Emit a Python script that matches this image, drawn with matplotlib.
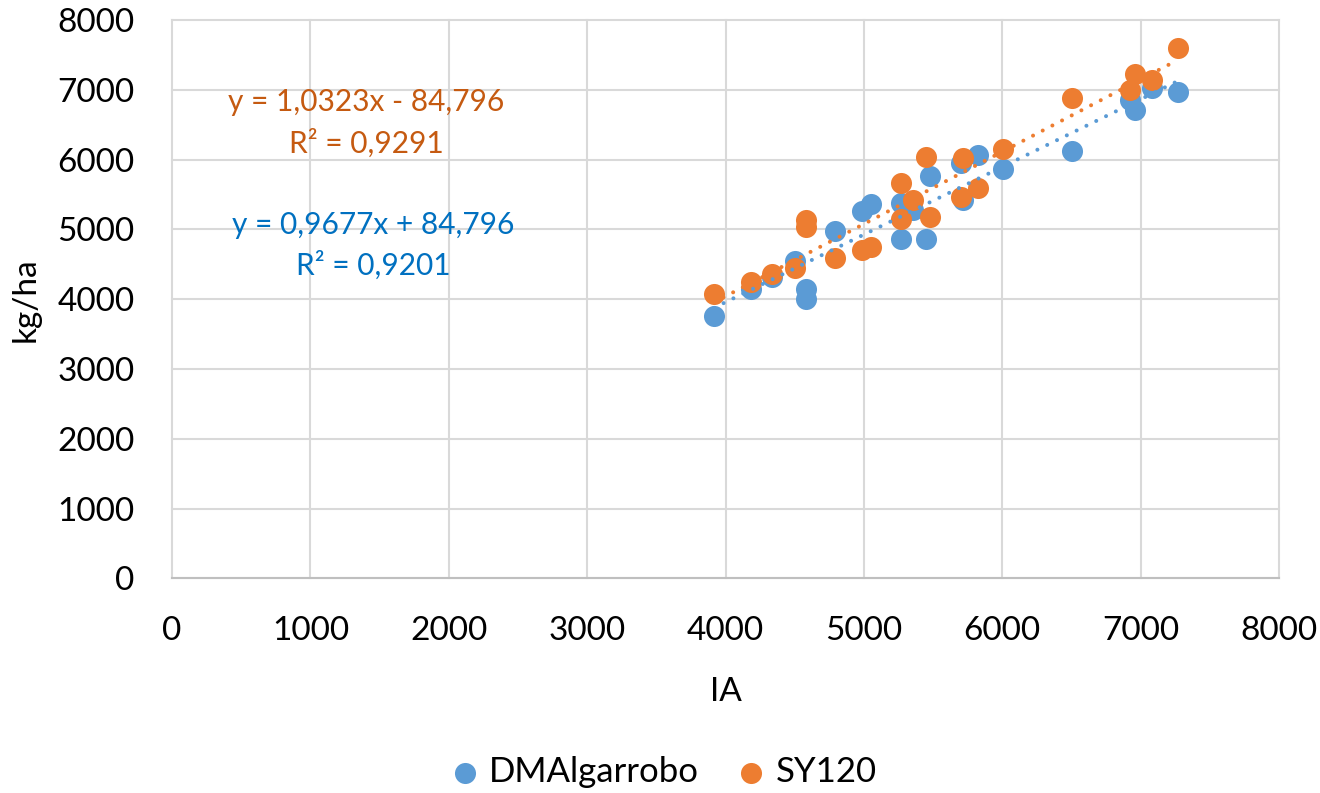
import numpy as np
import matplotlib
matplotlib.use("Agg")
import matplotlib.pyplot as plt

plt.rcParams['font.family'] = ['Lato', 'DejaVu Sans']

# IA values and yields (kg/ha) for both cultivars
ia = [3915, 4181, 4335, 4501, 4583, 4583, 4788, 4988, 5053, 5265, 5265, 5353,
      5446, 5477, 5699, 5718, 5824, 6005, 6500, 6923, 6957, 7085, 7266]
dm_algarrobo = [3761, 4143, 4315, 4553, 4143, 4010, 4983, 5270, 5365, 4860, 5384, 5279,
                4860, 5771, 5948, 5423, 6067, 5870, 6129, 6855, 6712, 7023, 6974]
sy120 = [4072, 4243, 4362, 4444, 5040, 5136, 4596, 4706, 4745, 5671, 5146, 5423,
         6034, 5183, 5470, 6020, 5590, 6158, 6888, 6999, 7223, 7142, 7596]

eq_orange = ["y = 1,0323x - 84,796", "R² = 0,9291"]
eq_blue = ["y = 0,9677x + 84,796", "R² = 0,9201"]

blue = "#5B9BD5"
orange = "#ED7D31"

W, H = 1320, 793
fig = plt.figure(figsize=(W / 100, H / 100), dpi=100)
ax = fig.add_axes([0.1303, 0.2705, 0.8387, 0.7043])

ax.scatter(ia, dm_algarrobo, s=230, color=blue, label="DMAlgarrobo", zorder=3, linewidths=0)
ax.scatter(ia, sy120, s=230, color=orange, label="SY120", zorder=3, linewidths=0)

# linear trendlines
xs = np.array([min(ia), max(ia)])
for yy, c in [(dm_algarrobo, blue), (sy120, orange)]:
    m, b = np.polyfit(ia, yy, 1)
    ax.plot(xs, m * xs + b, color=c, lw=2.9, linestyle=(0, (0.01, 2.7)),
            dash_capstyle="round", zorder=4)

# trendline labels (positions in pixels from top-left)
for txt, px, py, c in [(eq_orange[0], 366, 102, "#C55A11"),
                       (eq_orange[1], 366, 143, "#C55A11"),
                       (eq_blue[0], 373, 225, "#0070C0"),
                       (eq_blue[1], 373, 265, "#0070C0")]:
    fig.text(px / W, 1 - py / H, txt, color=c, fontsize=21.5, ha="center", va="center")

ax.set_xlim(0, 8000)
ax.set_ylim(0, 8000)
ax.set_xticks(range(0, 8001, 1000))
ax.set_yticks(range(0, 8001, 1000))
ax.grid(True, color="#D9D9D9", lw=1.5, clip_on=False)
ax.set_axisbelow(True)
for s in ax.spines.values():
    s.set_visible(False)
ax.axhline(0, color="#BFBFBF", lw=1.5, zorder=1, clip_on=False)
ax.tick_params(length=0, labelsize=24, pad=27)
ax.set_xlabel("IA", fontsize=24, labelpad=22)
ax.set_ylabel("kg/ha", fontsize=24, labelpad=12)

fig.legend(loc="center", bbox_to_anchor=(0.503, 0.026), ncol=2, frameon=False,
           fontsize=25, handlelength=0.8, handletextpad=0.3, columnspacing=1.1,
           markerscale=1.0)

plt.savefig("out.png", dpi=100)
